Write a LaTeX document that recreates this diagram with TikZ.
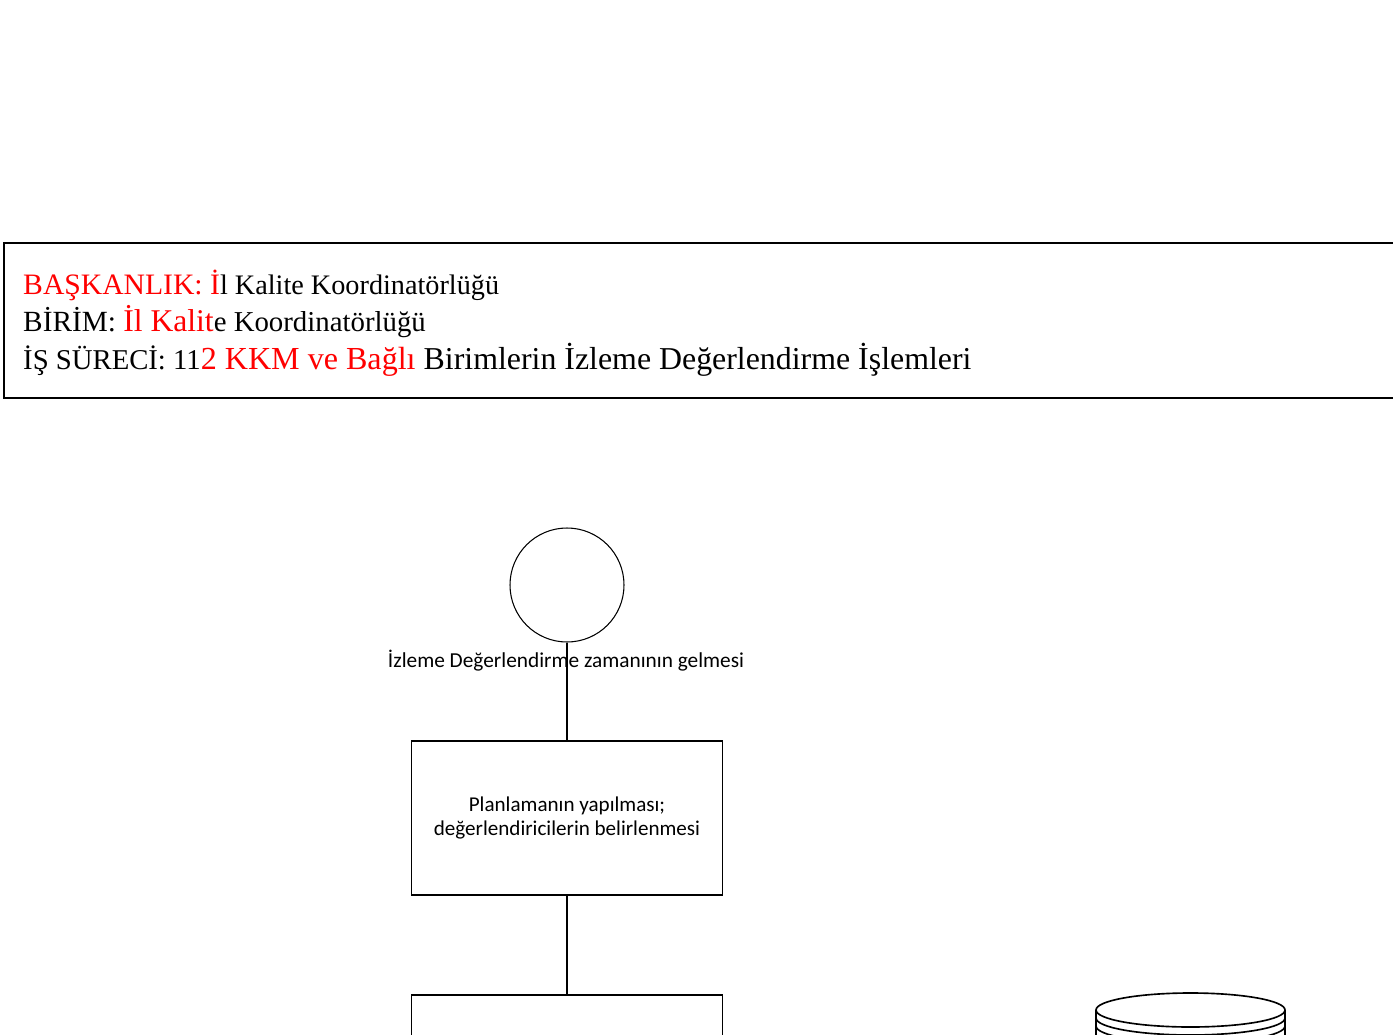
\documentclass[tikz,border=0pt]{standalone}
\usepackage{fontspec}
\setmainfont{Liberation Serif}
\newfontfamily\calibrifont{Carlito}
\usepackage{xcolor}

\newcommand{\hsz}[1]{\fontsize{#1}{30}\selectfont}

\tikzset{
  headline/.style={anchor=base west, inner sep=0pt},
  procbox/.style={draw, line width=1.4pt, minimum width=9.33cm, minimum height=4.62cm,
    align=center, font=\calibrifont\fontsize{18}{21.3}\selectfont},
  eventcirc/.style={draw, circle, line width=0.9pt, minimum size=3.42cm, inner sep=0pt},
  evlabel/.style={inner sep=0pt, font=\calibrifont\fontsize{18.2}{21.3}\selectfont},
  link/.style={line width=1.4pt}
}

\begin{document}
\begin{tikzpicture}[x=0.03cm, y=-0.03cm]

\useasboundingbox (0,0) rectangle (1393,1035);
\clip (0,0) rectangle (1393,1035);

% Draw header frame
\node[draw, line width=1.4pt, anchor=north west, minimum width=41.9cm, minimum height=4.65cm, inner sep=0pt] (header) at (3,242) {};
\node[headline] (baskanlik) at (23,294) {\hsz{25.3}\textcolor{red}{BAŞKANLIK: İ}\hsz{24.1}l Kalite Koordinatörlüğü};
\node[headline] (birim) at (23,331.5) {\hsz{25}BİRİM: \hsz{27}\textcolor{red}{İl Kalit}\hsz{24.6}e Koordinatörlüğü};
\node[headline] (surec) at (23,369) {\hsz{24.5}İŞ SÜRECİ: 11\hsz{27.4}\textcolor{red}{2 KKM ve Bağlı} \hsz{27.2}Birimlerin İzleme Değerlendirme İşlemleri};

% Draw start event
\node[eventcirc] (start) at (567,585) {};
\node[evlabel] (startlbl) at (566,661) {İzleme Değerlendirme zamanının gelmesi};

% Draw process boxes
\node[procbox] (plan) at (567,818) {Planlamanın yapılması;\\değerlendiricilerin belirlenmesi};
\node[procbox, anchor=north] (next) at (567,994) {};

% Draw connectors
\draw[link] (start) -- (plan);
\draw[link] (plan) -- (next);

% Draw data store
\draw[line width=1.4pt] (1190.5,1010) ellipse [x radius=94.5, y radius=17];
\draw[line width=1.4pt] (1096,1010) -- (1096,1045);
\draw[line width=1.4pt] (1285,1010) -- (1285,1045);
\foreach \d in {8,16}
  \draw[line width=1.4pt] (1096,1010+\d) arc[start angle=180, end angle=0, x radius=94.5, y radius=17];

\end{tikzpicture}
\end{document}
